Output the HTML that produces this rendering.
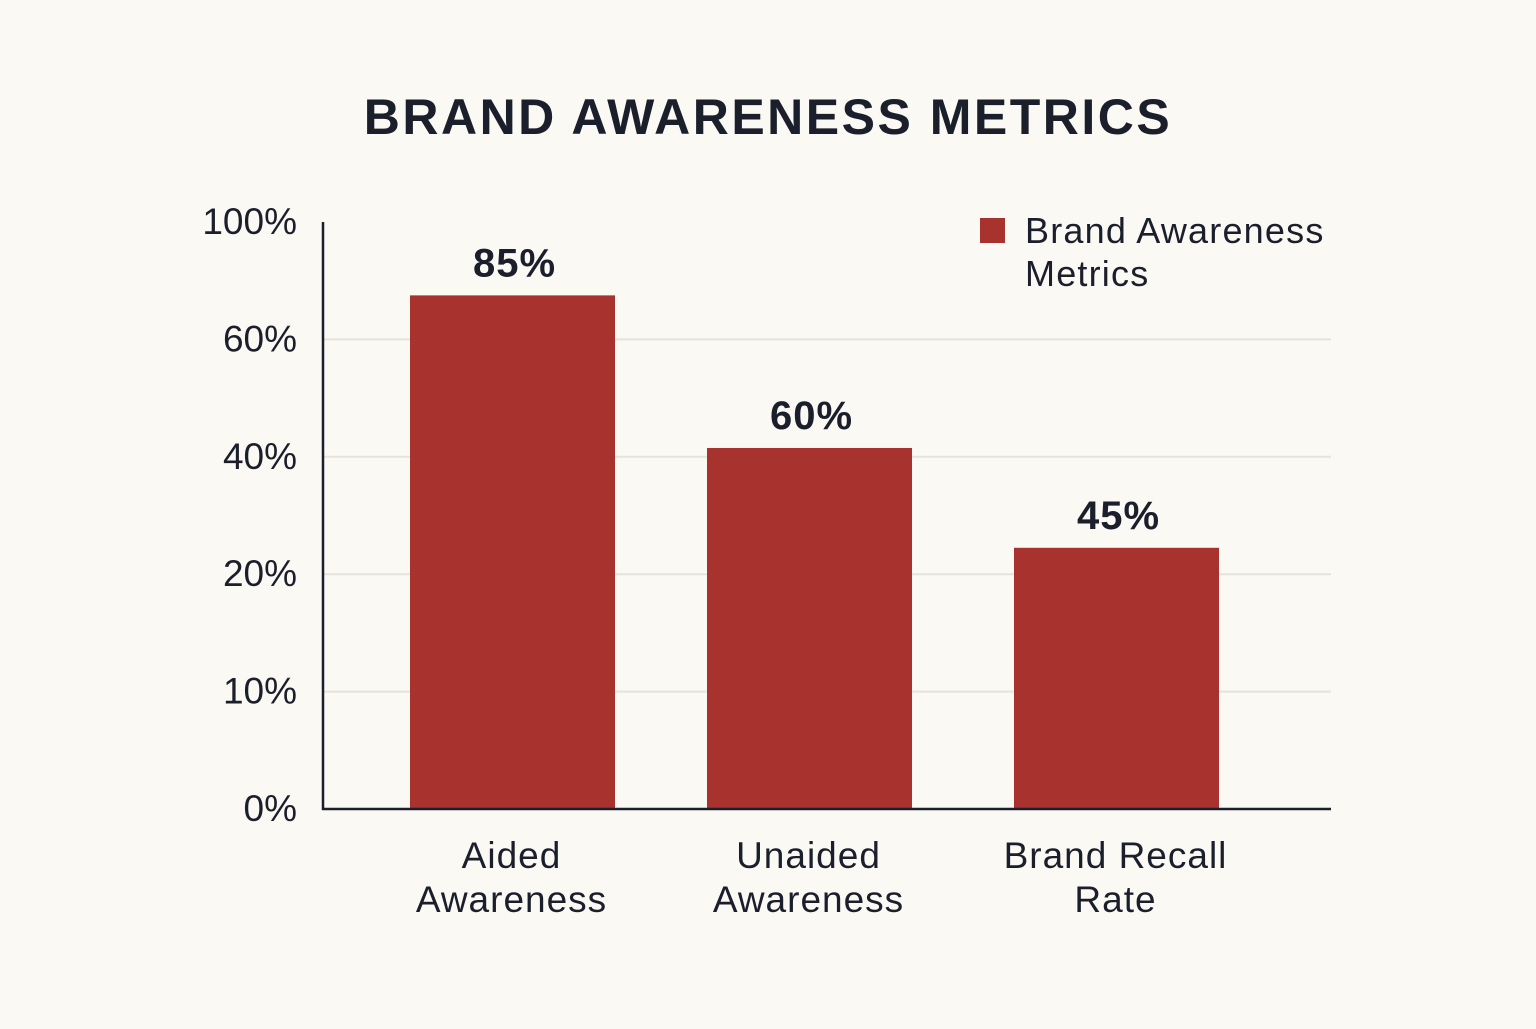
<!DOCTYPE html>
<html>
<head>
<meta charset="utf-8">
<style>
  html,body{margin:0;padding:0;background:#fbf9f4;}
  body{width:1536px;height:1024px;overflow:hidden;font-family:"Liberation Sans",sans-serif;}
  svg text{font-family:"Liberation Sans",sans-serif;fill:#1a1f2b;}
</style>
</head>
<body>
<svg id="chart" width="1536" height="1024" viewBox="0 0 1536 1024" xmlns="http://www.w3.org/2000/svg">
  <rect width="1536" height="1024" fill="#fbf9f4"/>
  <text x="768" y="134" text-anchor="middle" font-size="50" font-weight="bold" letter-spacing="2.5">BRAND AWARENESS METRICS</text>
  <g id="grid"></g>
  <g id="bars"></g>
  <g id="axes"></g>
  <g>
    <rect x="980" y="218" width="25" height="25" fill="#a8322d"/>
    <text x="1025" y="243" font-size="36" letter-spacing="1.2">Brand Awareness</text>
    <text x="1025" y="286" font-size="36" letter-spacing="1.2">Metrics</text>
  </g>
</svg>
<script>
const tickValues = [0, 10, 20, 40, 60, 100];
const tickLabels = ["0%", "10%", "20%", "40%", "60%", "100%"];
const categories = [["Aided", "Awareness"], ["Unaided", "Awareness"], ["Brand Recall", "Rate"]];
const barValues = [75, 41.5, 24.5];
const valueLabels = ["85%", "60%", "45%"];

const NS = "http://www.w3.org/2000/svg";
const plot = {left: 323, right: 1331, top: 222, bottom: 809};
const step = (plot.bottom - plot.top) / (tickValues.length - 1);
function yScale(v) {
  for (let i = 0; i < tickValues.length - 1; i++) {
    const a = tickValues[i], b = tickValues[i + 1];
    if (v <= b || i === tickValues.length - 2) {
      const f = (v - a) / (b - a);
      return plot.bottom - (i + f) * step;
    }
  }
}
const centers = [512.5, 809.5, 1116.5];
function xPos(i) { return centers[i]; }
const barW = 205;

function mk(tag, attrs, parent) {
  const el = document.createElementNS(NS, tag);
  for (const k in attrs) el.setAttribute(k, attrs[k]);
  parent.appendChild(el);
  return el;
}
const grid = document.getElementById("grid");
const axes = document.getElementById("axes");
const bars = document.getElementById("bars");

tickValues.forEach((v, i) => {
  const y = yScale(v);
  if (v !== 0 && i !== tickValues.length - 1) {
    const g = mk("line", {x1: plot.left, x2: plot.right, y1: y, y2: y, stroke: "#e6e3dc", "stroke-width": 2}, grid);
    
    
  }
  const t = mk("text", {x: 297, y: y + 12, "text-anchor": "end", "font-size": 37}, axes);
  t.textContent = tickLabels[i];
  
  
});

const yAxis = mk("line", {x1: plot.left, x2: plot.left, y1: plot.top, y2: plot.bottom + 1, stroke: "#1a1f2b", "stroke-width": 2.5}, axes);


const xAxis = mk("line", {x1: plot.left - 1, x2: plot.right, y1: plot.bottom, y2: plot.bottom, stroke: "#1a1f2b", "stroke-width": 2.5}, axes);



barValues.forEach((v, i) => {
  const cx = xPos(i);
  const y = yScale(v);
  const r = mk("rect", {x: cx - barW / 2, y: y, width: barW, height: plot.bottom - y, fill: "#a8322d"}, bars);
  
  
  const vl = mk("text", {x: cx + 2, y: y - 19, "text-anchor": "middle", "font-size": 40, "font-weight": "bold", "letter-spacing": 1}, bars);
  vl.textContent = valueLabels[i];
  
  
  categories[i].forEach((line, j) => {
    const c = mk("text", {x: cx - 1, y: 868 + j * 44, "text-anchor": "middle", "font-size": 37, "letter-spacing": 1}, axes);
    c.textContent = line;
    
    
  });
});
</script>
</body>
</html>
